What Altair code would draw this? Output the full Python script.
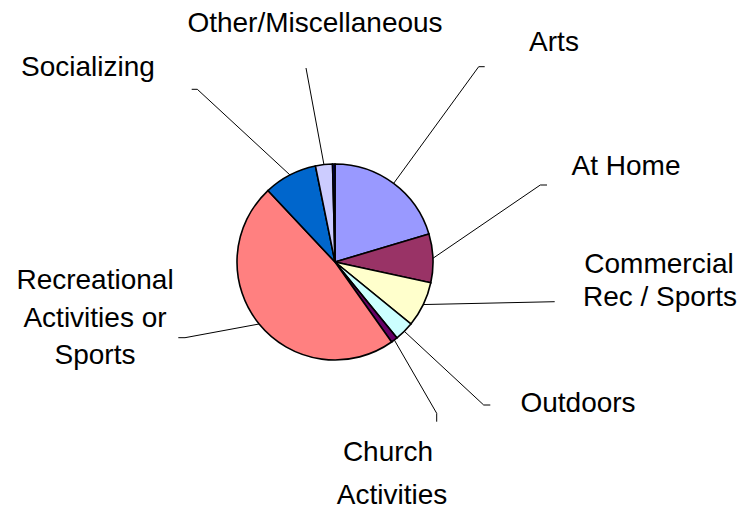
import math
import altair as alt
import pandas as pd

# ---- data ----
categories = ["Arts", "At Home", "Commercial Rec / Sports", "Outdoors",
              "Church Activities", "Recreational Activities or Sports",
              "Socializing", "Other/Miscellaneous", "Unlabeled"]
values = [20.4, 8.0, 7.5, 3.2, 1.1, 47.8, 8.8, 2.8, 0.4]
colors = ["#9999FF", "#993366", "#FFFFCC", "#CCFFFF", "#660066",
          "#FF8080", "#0066CC", "#CCCCFF", "#000080"]
label_lines = {
    "Arts": ["Arts"],
    "At Home": ["At Home"],
    "Commercial Rec / Sports": ["Commercial", "Rec / Sports"],
    "Outdoors": ["Outdoors"],
    "Church Activities": ["Church", "Activities"],
    "Recreational Activities or Sports": ["Recreational", "Activities or", "Sports"],
    "Socializing": ["Socializing"],
    "Other/Miscellaneous": ["Other/Miscellaneous"],
}

# ---- layout (chart pixel space) ----
W, H = 729, 501
CX, CY, R = 327, 254, 98
# leader line outer points (elbow, end) per label
leader_out = {
    "Socializing": [(189.3, 81.3), (183.7, 81.3)],
    "Other/Miscellaneous": [(298, 60)],
    "Arts": [(470.7, 58.7), (476.7, 58.7)],
    "At Home": [(532.3, 177), (539, 177)],
    "Commercial Rec / Sports": [(546.7, 293.7)],
    "Outdoors": [(475.7, 397), (482.3, 397)],
    "Church Activities": [(428.7, 405.3), (428.7, 413.7)],
    "Recreational Activities or Sports": [(177, 329.7), (170.3, 329.7)],
}
# text line centres per label
text_pos = {
    "Other/Miscellaneous": [(307, 16)],
    "Socializing": [(80, 60)],
    "Arts": [(546, 35)],
    "At Home": [(618, 159)],
    "Commercial Rec / Sports": [(651, 257), (652, 290)],
    "Outdoors": [(570, 396)],
    "Church Activities": [(380, 445), (384, 488)],
    "Recreational Activities or Sports": [(87, 273), (87, 311), (87, 348)],
}

pie_df = pd.DataFrame({"cat": categories, "val": values,
                       "idx": list(range(len(categories)))})

total = sum(values)
cum = 0.0
line_rows = []
for c, v in zip(categories, values):
    mid = (cum + v / 2) / total * 2 * math.pi
    cum += v
    if c not in leader_out:
        continue
    pts = [(CX + R * math.sin(mid), CY - R * math.cos(mid))] + leader_out[c]
    for k, (px, py) in enumerate(pts):
        line_rows.append({"cat": c, "seq": k, "x": px, "y": py})
line_df = pd.DataFrame(line_rows)

text_rows = []
for c, lines in label_lines.items():
    for t, (px, py) in zip(lines, text_pos[c]):
        text_rows.append({"t": t, "x": px, "y": py})
text_df = pd.DataFrame(text_rows)

xs = alt.Scale(domain=[0, W], nice=False, zero=False)
ys = alt.Scale(domain=[0, H], nice=False, zero=False, reverse=True)

pie = alt.Chart(pie_df).mark_arc(radius=R, stroke="black", strokeWidth=1.6).encode(
    theta=alt.Theta("val:Q", stack=True),
    order=alt.Order("idx:Q"),
    color=alt.Color("cat:N", scale=alt.Scale(domain=categories, range=colors), legend=None),
    x=alt.value(CX),
    y=alt.value(CY),
)

leaders = alt.Chart(line_df).mark_line(color="black", strokeWidth=1).encode(
    x=alt.X("x:Q", scale=xs, axis=None),
    y=alt.Y("y:Q", scale=ys, axis=None),
    detail="cat:N",
    order="seq:Q",
)

texts = alt.Chart(text_df).mark_text(
    font="Liberation Sans", fontSize=28, color="black",
    align="center", baseline="middle"
).encode(
    x=alt.X("x:Q", scale=xs, axis=None),
    y=alt.Y("y:Q", scale=ys, axis=None),
    text="t:N",
)

chart = alt.layer(leaders, pie, texts).resolve_scale(color="independent").properties(
    width=W, height=H, padding=0,
    autosize=alt.AutoSizeParams(type="none"),
    background="white",
).configure_view(stroke=None)

chart.save("out.html", embed_options={"renderer": "svg", "actions": False})
